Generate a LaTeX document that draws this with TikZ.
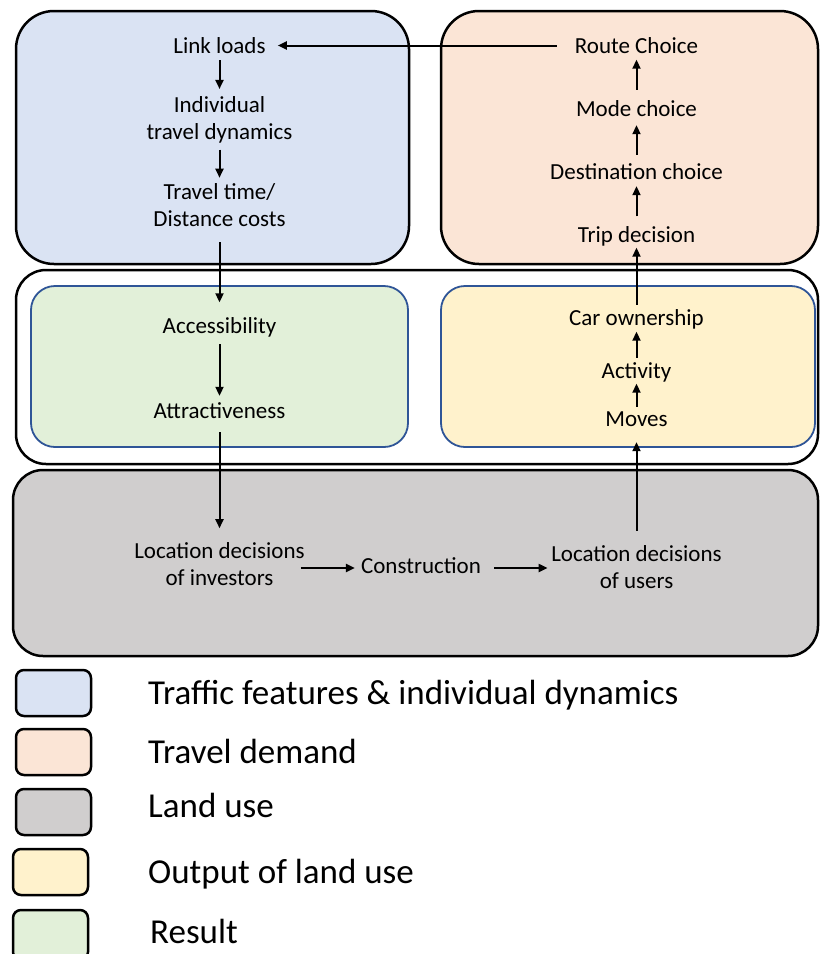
\documentclass[tikz,border=0pt]{standalone}
\usepackage{fontspec}
\setmainfont{Carlito}
\usetikzlibrary{arrows.meta}
\definecolor{cblue}{HTML}{DAE3F3}
\definecolor{corange}{HTML}{FBE5D6}
\definecolor{cgray}{HTML}{D0CECE}
\definecolor{cyellow}{HTML}{FFF2CC}
\definecolor{cgreen}{HTML}{E2F0D9}
\definecolor{cborder}{HTML}{2F5597}
\begin{document}
\begin{tikzpicture}[x=1pt,y=-1pt,
  grp/.style={draw=black, line width=2.5pt, rounded corners=38pt},
  subgrp/.style={draw=cborder, line width=1.8pt, rounded corners=24pt},
  lgd/.style={draw=black, line width=2.5pt, rounded corners=8pt},
  txt/.style={font=\fontsize{23}{27}\selectfont, inner sep=0pt, text height=16pt, text depth=5pt},
  mtxt/.style={font=\fontsize{23}{27}\selectfont, inner sep=0pt, align=center},
  ltxt/.style={font=\fontsize{35}{42}\selectfont, inner sep=0pt, anchor=base west},
  arr/.style={-{Triangle[length=9pt,width=8pt]}, line width=2pt}
]
\useasboundingbox (0,0) rectangle (820,954);
% group boxes
\draw[grp, fill=cblue] (16,11) rectangle (409,264);
\draw[grp, fill=corange] (441,11) rectangle (818,264);
\draw[grp, rounded corners=30pt, fill=white] (16,270) rectangle (818,464);
\draw[subgrp, fill=cgreen] (31,286) rectangle (408,447);
\draw[subgrp, fill=cyellow] (441,286) rectangle (815,447);
\draw[grp, rounded corners=30pt, fill=cgray] (13,470) rectangle (818,656);
% nodes
\node[txt] (ll) at (219.5,48) {Link loads};
\node[mtxt] (ind) at (219.5,120) {Individual\\travel dynamics};
\node[mtxt] (tt) at (219.5,205) {Travel time/\\Distance costs};
\node[txt] (acc) at (219.5,328) {Accessibility};
\node[txt] (att) at (219.5,413) {Attractiveness};
\node[mtxt] (li) at (219.5,564) {Location decisions\\of investors};
\node[txt] (con) at (421,568) {Construction};
\node[mtxt] (lu) at (636.5,567) {Location decisions\\of users};
\node[txt] (mov) at (636.5,421) {Moves};
\node[txt] (act) at (636.5,373) {Activity};
\node[txt] (car) at (636.5,320) {Car ownership};
\node[txt] (trip) at (636.5,237) {Trip decision};
\node[txt] (dest) at (636.5,174) {Destination choice};
\node[txt] (mode) at (636.5,111) {Mode choice};
\node[txt] (route) at (636.5,48) {Route Choice};
% connectors
\draw[arr, shorten <=1.5pt, shorten >=7.5pt] (ll) -- (ind);
\draw[arr, shorten <=6pt, shorten >=5.5pt] (ind) -- (tt);
\draw[arr, shorten <=15.5pt, shorten >=15pt] (tt) -- (acc);
\draw[arr, shorten <=5.5pt, shorten >=6.5pt] (acc) -- (att);
\draw[arr, shorten <=8.5pt, shorten >=14pt] (att) -- (li);
\draw[arr, shorten <=-4pt, shorten >=6pt] (li.east |- con) -- (con);
\draw[arr, shorten <=13pt, shorten >=3.5pt] (con) -- (lu.west |- con);
\draw[arr, shorten <=14.4pt, shorten >=10.5pt] (lu) -- (mov);
\draw[arr, shorten <=3.5pt] (mov) -- (act);
\draw[arr, shorten <=4.5pt, shorten >=1pt] (act) -- (car);
\draw[arr, shorten <=4.5pt] (car) -- (trip);
\draw[arr, shorten <=10pt, shorten >=1.5pt] (trip) -- (dest);
\draw[arr, shorten <=8.5pt, shorten >=3.5pt] (dest) -- (mode);
\draw[arr, shorten <=10.5pt, shorten >=1pt] (mode) -- (route);
\draw[arr, shorten <=18pt, shorten >=12pt] ([yshift=2.5pt]route.west) -- ([yshift=2.5pt]ll.east);
% legend
\draw[lgd, fill=cblue] (16,670) rectangle (91,716);
\draw[lgd, fill=corange] (16,729) rectangle (91,775);
\draw[lgd, fill=cgray] (16,789) rectangle (91,835);
\draw[lgd, fill=cyellow] (13,849) rectangle (88,895);
\draw[lgd, fill=cgreen] (13,910) rectangle (88,960);
\node[ltxt] (l1) at (148,704) {Traffic features \& individual dynamics};
\node[ltxt] (l2) at (148,763) {Travel demand};
\node[ltxt] (l3) at (148,817) {Land use};
\node[ltxt] (l4) at (148,883) {Output of land use};
\node[ltxt] (l5) at (150,943) {Result};
\end{tikzpicture}
\end{document}
